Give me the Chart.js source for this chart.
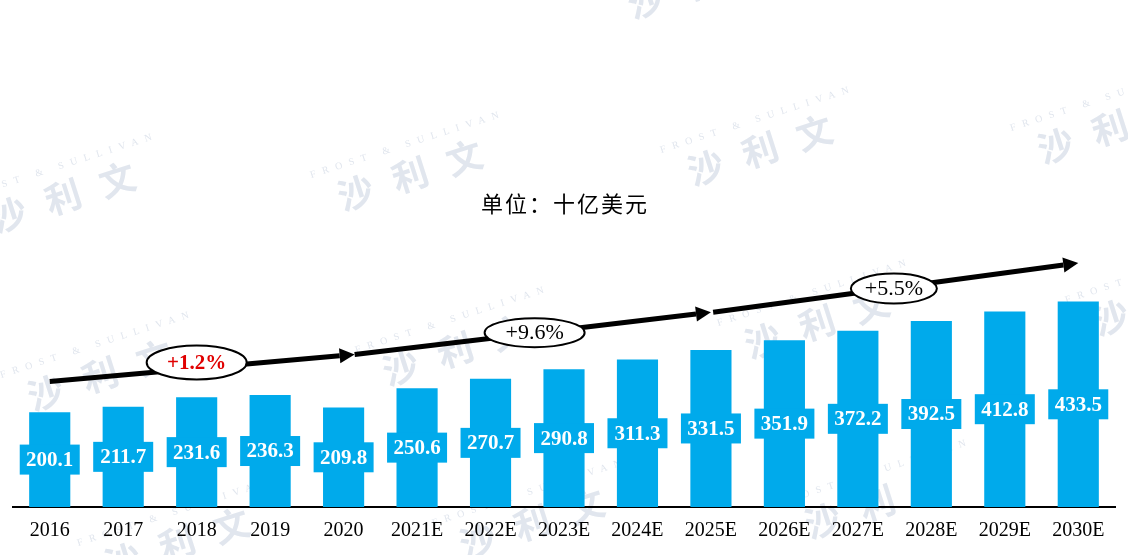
<!DOCTYPE html>
<html>
<head>
<meta charset="utf-8">
<script src="https://cdn.jsdelivr.net/npm/chart.js@4"></script>
<style>
  html, body { margin: 0; padding: 0; background: #fff; }
  #wrap { width: 1128px; height: 555px; position: relative; }
</style>
</head>
<body>
<div id="wrap"><canvas id="chart"></canvas></div>
<script>
// ── Data ──────────────────────────────────────────────
const YEARS  = ['2016', '2017', '2018', '2019', '2020', '2021E', '2022E', '2023E',
                '2024E', '2025E', '2026E', '2027E', '2028E', '2029E', '2030E'];
const VALUES = [200.1, 211.7, 231.6, 236.3, 209.8, 250.6, 270.7, 290.8,
                311.3, 331.5, 351.9, 372.2, 392.5, 412.8, 433.5];

// CAGR arrows: from/to category index, heights in value units
const CAGR_LABELS = ['+1.2%', '+9.6%', '+5.5%'];
const CAGR_FROM_X = [0, 4.15, 9.03];
const CAGR_TO_X   = [4.15, 9, 14];
const CAGR_FROM_Y = [265, 322, 411];
const CAGR_TO_Y   = [322, 411, 515];
// label bubbles: centre (category index, value)
const CAGR_BUB_X  = [2.0, 6.6, 11.49];
const CAGR_BUB_Y  = [305, 368, 461];

const UNIT_TEXT = '单位：十亿美元';
const BAR_BLUE  = '#00AAEB';

// watermark stamps (pixel centres of the middle character)
const WATERMARKS = [
  [63, 197], [410, 175], [760, 150], [1110, 128], [700, -17],
  [100, 375], [455, 350], [817, 323], [1165, 300],
  [177, 543], [532, 523], [877, 503]
];

// ── Plugins ───────────────────────────────────────────
const watermarkPlugin = {
  id: 'watermark',
  beforeDraw(chart) {
    const ctx = chart.ctx;
    ctx.save();
    ctx.fillStyle = '#e1e6ee';
    WATERMARKS.forEach(([x, y]) => {
      ctx.save();
      ctx.translate(x, y);
      ctx.rotate(-0.31);
      ctx.textAlign = 'center';
      ctx.textBaseline = 'middle';
      ctx.font = 'bold 36px "Noto Sans CJK SC"';
      ctx.fillText('沙', -57, 0);
      ctx.fillText('利', 0, 0);
      ctx.fillText('文', 57, 0);
      ctx.font = '10px "Liberation Serif"';
      ctx.letterSpacing = '7px';
      ctx.textAlign = 'left';
      ctx.fillText('FROST & SULLIVAN', -95, -30);
      ctx.restore();
    });
    ctx.restore();
  }
};

const overlayPlugin = {
  id: 'overlay',
  afterDatasetsDraw(chart) {
    const ctx = chart.ctx;
    const xs = chart.scales.x, ys = chart.scales.y;

    // value boxes in the middle of each bar
    const meta = chart.getDatasetMeta(0);
    ctx.save();
    meta.data.forEach((bar, i) => {
      const cy = (bar.y + bar.base) / 2;
      ctx.fillStyle = BAR_BLUE;
      ctx.fillRect(bar.x - 30, cy - 15, 60, 30);
      ctx.fillStyle = '#fff';
      ctx.font = 'bold 21px "Liberation Serif"';
      ctx.textAlign = 'center';
      ctx.textBaseline = 'middle';
      ctx.fillText(VALUES[i].toFixed(1), bar.x, cy + 1);
    });
    ctx.restore();

    // CAGR arrows
    ctx.save();
    CAGR_LABELS.forEach((_, i) => {
      const x0 = xs.getPixelForValue(CAGR_FROM_X[i]), y0 = ys.getPixelForValue(CAGR_FROM_Y[i]);
      const x1 = xs.getPixelForValue(CAGR_TO_X[i]),   y1 = ys.getPixelForValue(CAGR_TO_Y[i]);
      const ang = Math.atan2(y1 - y0, x1 - x0);
      const head = 15;
      const bx = x1 - head * Math.cos(ang), by = y1 - head * Math.sin(ang);
      ctx.strokeStyle = '#000';
      ctx.lineWidth = 5;
      ctx.beginPath();
      ctx.moveTo(x0, y0);
      ctx.lineTo(bx, by);
      ctx.stroke();
      ctx.fillStyle = '#000';
      ctx.beginPath();
      ctx.moveTo(x1, y1);
      ctx.lineTo(bx + 7.5 * Math.sin(ang), by - 7.5 * Math.cos(ang));
      ctx.lineTo(bx - 7.5 * Math.sin(ang), by + 7.5 * Math.cos(ang));
      ctx.closePath();
      ctx.fill();
    });

    // CAGR bubbles
    const RX = [50, 50, 43], RY = [17, 14.5, 15];
    CAGR_LABELS.forEach((label, i) => {
      const cx = xs.getPixelForValue(CAGR_BUB_X[i]), cy = ys.getPixelForValue(CAGR_BUB_Y[i]);
      ctx.beginPath();
      ctx.ellipse(cx, cy, RX[i], RY[i], 0, 0, Math.PI * 2);
      ctx.fillStyle = '#fff';
      ctx.fill();
      ctx.lineWidth = 2;
      ctx.strokeStyle = '#000';
      ctx.stroke();
      ctx.textAlign = 'center';
      ctx.textBaseline = 'middle';
      if (i === 0) {
        ctx.font = 'bold 21px "Liberation Serif"';
        ctx.fillStyle = '#E00000';
      } else {
        ctx.font = '22px "Liberation Serif"';
        ctx.fillStyle = '#000';
      }
      ctx.fillText(label, cx, cy + 1);
    });

    // unit title
    ctx.fillStyle = '#000';
    ctx.font = '22px "Noto Sans CJK SC"';
    ctx.letterSpacing = '2px';
    ctx.textAlign = 'center';
    ctx.textBaseline = 'middle';
    ctx.fillText(UNIT_TEXT, chart.width / 2 + 1, 204);
    ctx.restore();
  }
};

// ── Chart ─────────────────────────────────────────────
new Chart(document.getElementById('chart').getContext('2d'), {
  type: 'bar',
  data: {
    labels: YEARS,
    datasets: [{
      data: VALUES,
      backgroundColor: BAR_BLUE,
      borderWidth: 0,
      barPercentage: 0.56,
      categoryPercentage: 1
    }]
  },
  options: {
    responsive: true,
    maintainAspectRatio: false,
    animation: false,
    events: [],
    layout: { padding: { left: 13, right: 13, top: 0, bottom: 0 } },
    plugins: { legend: { display: false }, tooltip: { enabled: false } },
    scales: {
      x: {
        grid: { display: false, drawTicks: false },
        border: { color: '#000', width: 2 },
        ticks: { color: '#000', padding: 12, font: { family: 'Liberation Serif', size: 20 } }
      },
      y: { display: false, min: 0, max: 1070 }
    }
  },
  plugins: [watermarkPlugin, overlayPlugin]
});
</script>
</body>
</html>
